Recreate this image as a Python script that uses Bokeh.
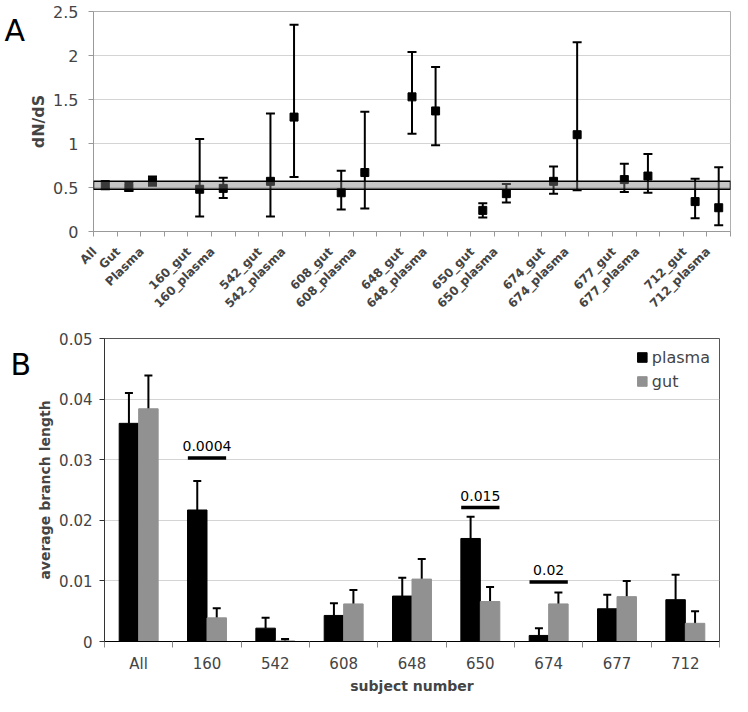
import math
from bokeh.plotting import figure
from bokeh.models import (ColumnDataSource, Whisker, TeeHead, BoxAnnotation, FixedTicker,
                          NumeralTickFormatter, Legend, LegendItem)
from bokeh.layouts import column, row
from bokeh.core.properties import value
from bokeh.embed import file_html
from bokeh.resources import INLINE
from bokeh.transform import dodge

FONT = "DejaVu Sans"

# ---------------- Panel A data ----------------
a_slots = ["All", "Gut", "Plasma", "",
           "160_gut", "160_plasma", "", "542_gut", "542_plasma", "",
           "608_gut", "608_plasma", "", "648_gut", "648_plasma", "",
           "650_gut", "650_plasma", "", "674_gut", "674_plasma", "",
           "677_gut", "677_plasma", "", "712_gut", "712_plasma"]
a_groups = ["All", "Gut", "Plasma", "160_gut", "160_plasma", "542_gut", "542_plasma",
            "608_gut", "608_plasma", "648_gut", "648_plasma", "650_gut", "650_plasma",
            "674_gut", "674_plasma", "677_gut", "677_plasma", "712_gut", "712_plasma"]
a_dnds = [0.53, 0.50, 0.57, 0.48, 0.49, 0.57, 1.30, 0.44, 0.67, 1.53, 1.37,
          0.24, 0.43, 0.57, 1.10, 0.59, 0.63, 0.34, 0.27]
a_low = [0.48, 0.46, 0.52, 0.17, 0.38, 0.17, 0.62, 0.25, 0.26, 1.11, 0.98,
         0.16, 0.33, 0.43, 0.47, 0.45, 0.44, 0.15, 0.07]
a_high = [0.57, 0.56, 0.625, 1.05, 0.61, 1.34, 2.35, 0.69, 1.36, 2.04, 1.87,
          0.32, 0.54, 0.74, 2.15, 0.77, 0.88, 0.60, 0.73]
band_low, band_high = 0.48, 0.57
a_yticks = [0, 0.5, 1, 1.5, 2, 2.5]

# ---------------- Panel B data ----------------
b_cats = ["All", "160", "542", "608", "648", "650", "674", "677", "712"]
plasma = [0.0360, 0.0217, 0.0022, 0.0043, 0.0075, 0.0170, 0.0010, 0.0054, 0.0069]
plasma_err = [0.0050, 0.0048, 0.0017, 0.0020, 0.0030, 0.0036, 0.0012, 0.0023, 0.0041]
gut = [0.0384, 0.0039, 0.0001, 0.0062, 0.0103, 0.0066, 0.0062, 0.0074, 0.0030]
gut_err = [0.0055, 0.0016, 0.0003, 0.0023, 0.0033, 0.0024, 0.0019, 0.0026, 0.0020]
sig_cats = ["160", "650", "674"]
sig_y = [0.0303, 0.0221, 0.0098]
sig_text = ["0.0004", "0.015", "0.02"]
b_yticks = [0, 0.01, 0.02, 0.03, 0.04, 0.05]

H_A, H_B = 318, 378
LABEL_SHIFT = 0.45   # rotated labels are anchored slightly left of the slot centre


def panel_letter(letter, w, h, x, y):
    f = figure(width=w, height=h, x_range=(0, 1), y_range=(0, 1), output_backend="svg",
               toolbar_location=None, x_axis_type=None, y_axis_type=None, min_border=0)
    f.outline_line_color = None
    f.grid.visible = False
    f.text(x=[x], y=[y], text=[letter], text_font=value(FONT), text_font_size="30px",
           text_baseline="alphabetic", text_align="left", text_color="black")
    return f


# ================= Panel A =================
pa = figure(width=706, height=H_A, x_range=(-0.5, len(a_slots) - 0.5), y_range=(0, 2.5),
            output_backend="svg", toolbar_location=None,
            min_border_left=62, min_border_right=2, min_border_top=11, min_border_bottom=86)
pa.outline_line_color = "#b0b0b0"
pa.xgrid.visible = False
pa.ygrid.grid_line_color = "#d4d4d4"
pa.ygrid.ticker = FixedTicker(ticks=a_yticks)

ya = pa.yaxis[0]
ya.ticker = FixedTicker(ticks=a_yticks)
ya.formatter = NumeralTickFormatter(format="0.[0]")
ya.axis_label = "dN/dS"
ya.axis_label_text_font = FONT
ya.axis_label_text_font_style = "bold"
ya.axis_label_text_font_size = "16px"
ya.axis_label_standoff = 2
ya.major_label_text_font = FONT
ya.major_label_text_font_size = "16px"
ya.major_label_standoff = 10
ya.axis_line_color = "#999999"
ya.major_tick_line_color = "#999999"
ya.major_tick_in = 0
ya.major_tick_out = 5
ya.minor_tick_line_color = None

label_ticks = [round(i - LABEL_SHIFT, 2) for i in range(len(a_slots))]
xa = pa.xaxis[0]
xa.ticker = FixedTicker(ticks=label_ticks,
                        minor_ticks=[i - 0.5 for i in range(len(a_slots) + 1)])
xa.major_label_overrides = {t: lab for t, lab in zip(label_ticks, a_slots)}
xa.major_label_orientation = math.pi / 4
xa.major_label_text_font = FONT
xa.major_label_text_font_style = "bold"
xa.major_label_text_font_size = "12px"
xa.major_label_standoff = 13
xa.major_tick_in = 0
xa.major_tick_out = 0
xa.minor_tick_in = 0
xa.minor_tick_out = 5
xa.minor_tick_line_color = "#999999"
xa.axis_line_color = "#999999"

src_a = ColumnDataSource(dict(x=[a_slots.index(g) for g in a_groups], y=a_dnds, lo=a_low, hi=a_high))
pa.add_layout(Whisker(source=src_a, base="x", lower="lo", upper="hi", line_width=2, line_color="black",
                      upper_head=TeeHead(size=9, line_width=2, line_color="black"),
                      lower_head=TeeHead(size=9, line_width=2, line_color="black"),
                      level="glyph"))
pa.scatter("x", "y", source=src_a, marker="square", size=8, color="black")
pa.add_layout(BoxAnnotation(bottom=band_low, top=band_high, fill_color="#808080", fill_alpha=0.45,
                            line_color="black", line_width=1.5, line_alpha=1))

la = panel_letter("A", 26, H_A, 4 / 26, 1 - 27 / H_A)

# ================= Panel B =================
pb = figure(width=698, height=H_B, x_range=(-0.5, len(b_cats) - 0.5), y_range=(0, 0.05),
            output_backend="svg", toolbar_location=None,
            min_border_left=68, min_border_right=13, min_border_top=20, min_border_bottom=55)
pb.outline_line_color = "#555555"
pb.xgrid.visible = False
pb.ygrid.grid_line_color = "#d4d4d4"
pb.ygrid.ticker = FixedTicker(ticks=b_yticks)

yb = pb.yaxis[0]
yb.ticker = FixedTicker(ticks=b_yticks)
yb.formatter = NumeralTickFormatter(format="0.[00]")
yb.axis_label = "average branch length"
yb.axis_label_text_font = FONT
yb.axis_label_text_font_style = "bold"
yb.axis_label_text_font_size = "14px"
yb.axis_label_standoff = 3
yb.major_label_text_font = FONT
yb.major_label_text_font_size = "15px"
yb.major_label_standoff = 7
yb.axis_line_color = "#333333"
yb.major_tick_line_color = "#333333"
yb.major_tick_in = 0
yb.major_tick_out = 5
yb.minor_tick_line_color = None

xb = pb.xaxis[0]
xb.ticker = FixedTicker(ticks=list(range(len(b_cats))),
                        minor_ticks=[i - 0.5 for i in range(len(b_cats) + 1)])
xb.major_label_overrides = {i: c for i, c in enumerate(b_cats)}
xb.axis_label = "subject number"
xb.axis_label_text_font = FONT
xb.axis_label_text_font_style = "bold"
xb.axis_label_text_font_size = "14px"
xb.axis_label_standoff = 2
xb.major_label_text_font = FONT
xb.major_label_text_font_size = "15px"
xb.major_label_standoff = 7
xb.major_tick_in = 0
xb.major_tick_out = 0
xb.minor_tick_in = 0
xb.minor_tick_out = 6
xb.minor_tick_line_color = "#888888"
xb.axis_line_color = "black"

idx = list(range(len(b_cats)))
src_b = ColumnDataSource(dict(
    idx=idx, plasma=plasma, gut=gut,
    p_hi=[v + e for v, e in zip(plasma, plasma_err)],
    g_hi=[v + e for v, e in zip(gut, gut_err)],
    g_lo=[max(0.0, v - e) for v, e in zip(gut, gut_err)],
))
bw = 0.285
r_p = pb.vbar(x=dodge("idx", -bw / 2), top="plasma", width=bw, source=src_b,
              fill_color="black", line_color="black")
r_g = pb.vbar(x=dodge("idx", bw / 2), top="gut", width=bw, source=src_b,
              fill_color="#919191", line_color="#919191")
pb.add_layout(Whisker(source=src_b, base=dodge("idx", -bw / 2), lower="plasma", upper="p_hi",
                      line_width=2, line_color="black",
                      upper_head=TeeHead(size=8, line_width=2, line_color="black"),
                      lower_head=None))
pb.add_layout(Whisker(source=src_b, base=dodge("idx", bw / 2), lower="g_lo", upper="g_hi",
                      line_width=2, line_color="black",
                      upper_head=TeeHead(size=8, line_width=2, line_color="black"),
                      lower_head=TeeHead(size=8, line_width=2, line_color="black")))

src_s = ColumnDataSource(dict(idx=[b_cats.index(c) for c in sig_cats], y=sig_y, txt=sig_text))
pb.segment(x0=dodge("idx", -0.28), x1=dodge("idx", 0.28), y0="y", y1="y", source=src_s,
           line_width=3.5, line_color="black")
pb.text(x="idx", y="y", text="txt", source=src_s, text_align="center", text_baseline="bottom",
        y_offset=-7, text_font=value(FONT), text_font_size="14px", text_color="black")

legend = Legend(items=[LegendItem(label="plasma", renderers=[r_p]),
                       LegendItem(label="gut", renderers=[r_g])],
                location="top_right", border_line_alpha=0, background_fill_alpha=0,
                label_text_font=FONT, label_text_font_size="16px",
                glyph_width=12, glyph_height=12, label_standoff=4,
                spacing=4, padding=4, margin=5, label_height=20)
pb.add_layout(legend)

lb = panel_letter("B", 34, H_B, 10 / 34, 1 - 33 / H_B)

layout = column(row(la, pa, spacing=0), row(lb, pb, spacing=0), spacing=0)
open("out.html", "w").write(file_html(layout, INLINE))
